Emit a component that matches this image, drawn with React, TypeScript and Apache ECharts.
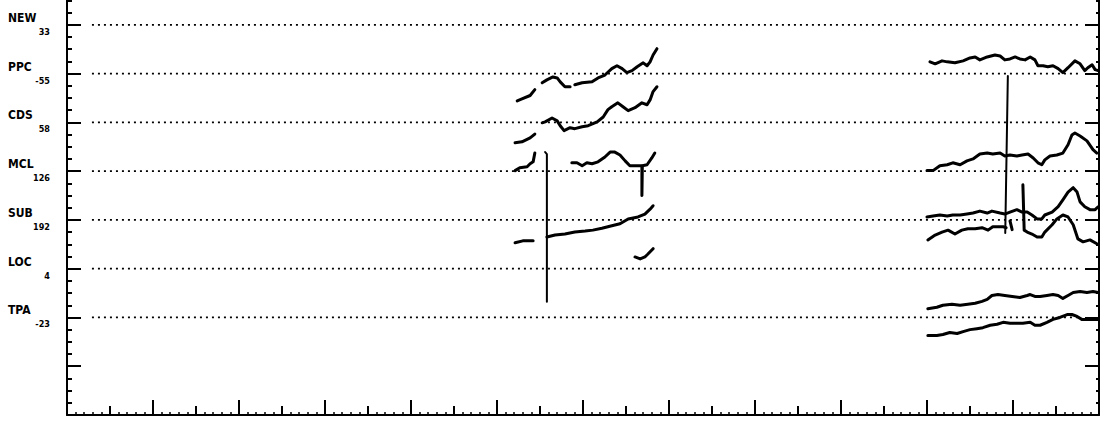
import React, { useEffect, useRef } from 'react';
import * as echarts from 'echarts';

// Reference levels (value axis units, 10 per band)
const levelValues = [20, 30, 40, 50, 60, 70, 80];
const levelNames = ['TPA', 'LOC', 'SUB', 'MCL', 'CDS', 'PPC', 'NEW'];
const levelOffsets = ['-23', '4', '192', '126', '58', '-55', '33'];
const xMin = 20;
const xMax = 260;
const refStart = 25.8;
const refEnd = 256;

// ---- first group of traces (x in axis units) ----
const ppcA = [[124.7, 64.4], [125.8, 64.8], [127.7, 65.5], [128.8, 66.7]];
const ppcB1 = [[130.5, 68.1], [131.6, 68.7], [133.0, 69.3], [134.0, 69.1], [134.7, 68.3], [135.8, 67.3], [137.0, 67.3]];
const ppcB2 = [[138.1, 67.7], [139.8, 68.1], [142.1, 68.3], [143.5, 69.1], [145.1, 69.7], [146.7, 71.0], [147.9, 71.6], [149.1, 71.0], [150.2, 70.2], [151.4, 70.6], [152.6, 71.4], [154.0, 72.2], [154.9, 71.6], [155.6, 72.4], [156.3, 73.8], [157.2, 75.1]];
const cdsA = [[124.2, 55.8], [125.8, 56.0], [127.7, 56.8], [128.8, 57.6]];
const cdsB = [[130.5, 59.9], [131.2, 60.1], [132.8, 60.9], [134.0, 60.3], [134.7, 59.3], [135.6, 58.3], [137.0, 58.9], [138.1, 58.7], [139.8, 59.1], [141.2, 59.3], [143.3, 60.1], [144.7, 61.1], [145.8, 62.6], [146.7, 63.2], [148.1, 64.0], [149.3, 63.2], [150.5, 62.4], [152.1, 63.0], [153.7, 64.0], [154.9, 63.6], [155.6, 64.6], [156.3, 66.3], [157.2, 67.3]];
const mclA = [[124.2, 50.1], [125.3, 50.7], [127.0, 50.9], [127.7, 51.5], [128.4, 51.9], [128.8, 53.7]];
const spikeA = [[131.2, 53.9], [131.6, 53.5], [131.6, 23.2]];
const mclB = [[137.4, 51.7], [138.6, 51.7], [139.8, 51.1], [140.9, 51.7], [142.1, 51.5], [143.5, 51.9], [145.1, 52.9], [146.3, 53.9], [147.4, 53.9], [148.6, 53.3], [149.8, 52.1], [150.9, 51.1], [152.6, 51.1], [153.7, 51.1], [153.7, 45.0], [153.8, 51.1], [154.9, 51.3], [156.0, 52.7], [156.7, 53.7]];
const subA = [[124.2, 35.3], [126.0, 35.7], [128.4, 35.7]];
const subB = [[131.6, 36.5], [133.5, 36.9], [135.8, 37.1], [138.1, 37.5], [140.5, 37.7], [142.3, 37.9], [144.4, 38.3], [146.7, 38.8], [148.6, 39.2], [150.5, 40.2], [152.8, 40.6], [154.4, 41.2], [155.6, 42.2], [156.3, 42.9]];
const locA = [[152.1, 32.4], [153.3, 32.0], [154.4, 32.4], [155.1, 33.0], [156.3, 34.1]];

// ---- second group of traces ----
const ppc2 = [[220.7, 72.4], [221.9, 72.0], [223.5, 72.6], [224.7, 72.4], [226.5, 72.2], [228.4, 72.6], [230.0, 73.2], [231.2, 73.4], [232.3, 72.8], [234.0, 73.4], [235.8, 73.8], [237.0, 73.6], [238.1, 72.8], [239.3, 73.0], [240.5, 73.4], [241.6, 73.0], [242.8, 72.8], [244.0, 73.4], [245.1, 72.8], [245.8, 71.6], [247.0, 71.6], [248.1, 71.4], [249.3, 71.6], [250.5, 71.0], [251.6, 70.2], [252.8, 71.2], [254.4, 72.6], [255.6, 72.0], [256.7, 70.6], [257.4, 71.2], [258.4, 71.8], [259.1, 70.8], [259.8, 70.6]];
const mcl2 = [[220.0, 50.1], [221.4, 50.1], [223.0, 51.1], [224.7, 51.3], [226.0, 51.7], [227.7, 51.3], [229.3, 52.1], [230.7, 52.5], [232.3, 53.5], [234.0, 53.7], [235.3, 53.5], [237.0, 53.7], [238.1, 53.1], [239.3, 53.3], [240.9, 53.1], [242.1, 53.3], [243.5, 53.5], [244.7, 52.7], [245.8, 51.7], [246.7, 51.3], [247.4, 52.3], [248.6, 53.1], [250.2, 53.3], [251.6, 53.7], [252.8, 55.4], [253.7, 57.4], [254.4, 57.8], [255.6, 57.2], [257.2, 56.2], [258.6, 54.4], [259.5, 53.7]];
const spikeB = [[238.8, 69.5], [238.2, 37.3]];
const sub2Upper = [[220.0, 40.6], [221.4, 40.8], [223.0, 41.0], [224.7, 40.8], [226.0, 41.0], [227.7, 41.0], [229.3, 41.2], [230.7, 41.4], [232.3, 41.8], [234.0, 41.4], [235.1, 41.8], [237.0, 41.4], [238.1, 41.2], [239.3, 41.6], [240.9, 42.1], [242.1, 41.6], [243.3, 41.6], [244.4, 41.0], [245.6, 40.2], [246.7, 40.2], [247.4, 41.0], [249.1, 41.6], [250.5, 42.7], [251.6, 44.1], [252.8, 45.7], [254.0, 46.6], [254.9, 45.7], [255.6, 43.7], [256.7, 42.7], [257.9, 42.1], [259.1, 42.1], [259.8, 42.7]];
const sub2LowerA = [[220.2, 35.9], [221.9, 36.9], [223.5, 37.5], [224.9, 37.9], [226.5, 37.1], [228.1, 37.9], [229.5, 38.2], [231.2, 38.2], [232.8, 38.4], [234.2, 37.9], [235.3, 38.6], [237.7, 38.6], [238.4, 38.4]];
const sub2Mark = [[239.3, 39.8], [239.8, 38.0]];
const sub2LowerB = [[242.3, 47.2], [242.6, 37.9], [243.3, 37.5], [244.4, 37.1], [245.6, 36.5], [246.7, 36.5], [247.4, 37.5], [249.1, 39.0], [250.2, 40.2], [251.6, 41.0], [252.8, 40.6], [254.0, 39.0], [255.1, 36.1], [256.3, 35.5], [257.9, 35.9], [259.5, 35.1]];
const tpa2Upper = [[220.2, 21.8], [222.3, 22.1], [223.7, 22.5], [225.8, 22.7], [227.7, 22.5], [229.5, 22.7], [231.2, 22.9], [232.8, 23.3], [234.0, 23.7], [235.1, 24.5], [236.5, 24.7], [238.1, 24.5], [239.8, 24.3], [241.6, 24.1], [243.3, 24.5], [244.0, 24.7], [245.1, 24.3], [246.3, 24.3], [247.9, 24.5], [249.3, 24.7], [250.5, 24.5], [251.6, 23.9], [252.8, 24.5], [254.0, 25.1], [255.6, 25.3], [257.2, 25.1], [258.6, 25.3], [259.8, 25.1]];
const tpa2Lower = [[220.2, 16.3], [222.3, 16.3], [223.7, 16.5], [225.3, 16.9], [227.0, 16.7], [228.4, 17.1], [230.0, 17.5], [231.6, 17.7], [233.0, 17.9], [234.7, 18.4], [236.3, 18.6], [237.7, 19.0], [239.3, 18.8], [240.9, 18.8], [242.3, 18.8], [244.0, 19.0], [245.1, 18.4], [246.3, 18.4], [247.9, 19.0], [249.3, 19.6], [250.9, 20.0], [252.6, 20.6], [253.7, 20.6], [254.9, 20.2], [256.0, 19.6], [257.2, 19.6], [258.6, 19.6], [259.8, 19.6]];

const traces = [ppcA, ppcB1, ppcB2, cdsA, cdsB, mclA, mclB, subA, subB, locA, ppc2, mcl2, sub2Upper, sub2LowerA, sub2Mark, sub2LowerB, tpa2Upper, tpa2Lower];
const spikes = [spikeA, spikeB];

const FONT = '"DejaVu Sans Condensed", "Liberation Sans Narrow", "DejaVu Sans", sans-serif';

export default function App() {
  const ref = useRef<HTMLDivElement>(null);
  useEffect(() => {
    if (!ref.current) return;
    const chart = echarts.init(ref.current, null, { renderer: 'svg' });
    const black = '#000';
    const series: any[] = [];
    levelValues.forEach((lv) => {
      series.push({
        type: 'line', silent: true, symbol: 'none',
        data: [[refStart, lv], [refEnd, lv]],
        lineStyle: { color: black, width: 1.7, type: [2, 4], cap: 'butt' },
      });
    });
    traces.forEach((d) => {
      series.push({
        type: 'line', silent: true, symbol: 'none', data: d,
        lineStyle: { color: black, width: 3, join: 'round', cap: 'round' },
      });
    });
    spikes.forEach((d) => {
      series.push({
        type: 'line', silent: true, symbol: 'none', data: d,
        lineStyle: { color: black, width: 2, cap: 'round' },
      });
    });
    // y axes sit "on zero" of helper x axes whose zero is at the left / right grid edge
    const tickAxisY = (pos: string, zeroAxis: number, interval: number, len: number, showLine: boolean, label?: any) => ({
      type: 'value', min: 0, max: 90, interval, position: pos,
      splitLine: { show: false },
      axisLine: { show: showLine, onZero: true, onZeroAxisIndex: zeroAxis, lineStyle: { color: black, width: 2 } },
      axisTick: { show: true, inside: true, length: len, lineStyle: { color: black, width: 2 } },
      axisLabel: label || { show: false },
    });
    const tickAxisX = (interval: number, len: number, showLine: boolean) => ({
      type: 'value', min: xMin, max: xMax, interval, position: 'bottom',
      splitLine: { show: false },
      axisLine: { show: showLine, onZero: false, lineStyle: { color: black, width: 2 } },
      axisTick: { show: true, inside: true, length: len, lineStyle: { color: black, width: len > 4 ? 2 : 1.5 } },
      axisLabel: { show: false },
    });
    const helperX = (min: number, max: number) => ({
      type: 'value', min, max, show: false, position: 'bottom',
      axisLine: { onZero: false }, splitLine: { show: false },
    });
    chart.setOption({
      animation: false,
      backgroundColor: '#fff',
      grid: { left: 67, right: 7, top: 0, bottom: 6, containLabel: false },
      xAxis: [tickAxisX(20, 15, true), tickAxisX(10, 9, false), tickAxisX(2, 3, false), helperX(0, 240), helperX(-240, 0)],
      yAxis: [
        tickAxisY('left', 3, 10, 14, true, {
          show: true, margin: 17, align: 'right', width: 42,
          formatter: (val: number) => {
            const i = levelValues.indexOf(Math.round(val));
            if (i < 0) return '';
            return `{n|${levelNames[i]}}\n{v|${levelOffsets[i]}}`;
          },
          rich: {
            n: { align: 'left', fontFamily: FONT, fontWeight: 'bold', fontSize: 12, lineHeight: 14, color: black },
            v: { align: 'right', fontFamily: FONT, fontWeight: 'bold', fontSize: 9, lineHeight: 14, color: black },
          },
        }),
        tickAxisY('left', 3, 2.5, 5, false),
        tickAxisY('right', 4, 10, 14, true),
        tickAxisY('right', 4, 2.5, 3, false),
      ],
      series,
    });
    return () => chart.dispose();
  }, []);
  return (
    <div
      ref={ref}
      style={{ position: 'absolute', left: 0, top: -24, width: 1106, height: 445, background: '#fff' }}
    />
  );
}
